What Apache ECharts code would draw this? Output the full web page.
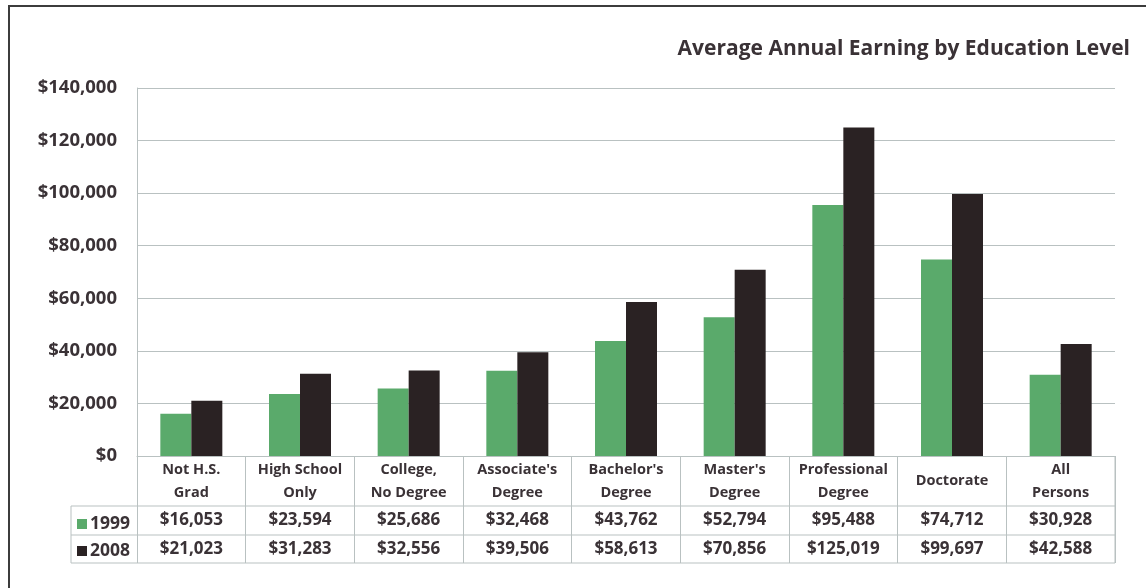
<!DOCTYPE html>
<html>
<head>
<meta charset="utf-8">
<script src="https://cdn.jsdelivr.net/npm/echarts@6/dist/echarts.min.js"></script>
<style>
  html, body { margin: 0; padding: 0; background: #fff; }
  #main { width: 1146px; height: 588px; }
</style>
</head>
<body>
<div id="main"></div>
<script>
// data
var categories = ['Not H.S.\nGrad', 'High School\nOnly', 'College,\nNo Degree', "Associate's\nDegree",
    "Bachelor's\nDegree", "Master's\nDegree", 'Professional\nDegree', 'Doctorate', 'All\nPersons'];
var years = ['1999', '2008'];
var earn1999 = [16053, 23594, 25686, 32468, 43762, 52794, 95488, 74712, 30928];
var earn2008 = [21023, 31283, 32556, 39506, 58613, 70856, 125019, 99697, 42588];
var yTicks = [0, 20000, 40000, 60000, 80000, 100000, 120000, 140000];

var green = '#5aaa6b';
var dark = '#2a2223';
var textCol = '#3a3236';
var lineCol = '#b9c1c1';
var font = '"Open Sans", sans-serif';

function money(v) {
    return '$' + String(v).replace(/\B(?=(\d{3})+(?!\d))/g, ',');
}

// 布局
var gLeft = 137, gRight = 1115, gTop = 88, gBottom = 456;
var rowY = [506, 535, 563];
var tableLeft = 71;

var chart = echarts.init(document.getElementById('main'));

var option = {
    animation: false,
    backgroundColor: '#fff',
    title: {
        text: 'Average Annual Earning by Education Level',
        right: 11,
        top: 34,
        textStyle: { fontFamily: font, fontWeight: 'bold', fontSize: 21, color: textCol }
    },
    legend: {
        data: years,
        orient: 'vertical',
        left: 72,
        top: 510,
        itemWidth: 10,
        itemHeight: 10,
        itemGap: 9,
        icon: 'rect',
        selectedMode: false,
        textStyle: { fontFamily: font, fontWeight: 'bold', fontSize: 17.5, color: textCol, padding: [0, 0, 0, -2] }
    },
    grid: {
        left: gLeft,
        right: 1146 - gRight,
        top: gTop,
        bottom: 588 - gBottom
    },
    xAxis: {
        type: 'category',
        data: categories,
        axisLine: { lineStyle: { color: lineCol, width: 1 } },
        axisTick: { show: true, length: 107, interval: 0, lineStyle: { color: lineCol } },
        axisLabel: {
            interval: 0,
            margin: 25,
            verticalAlign: 'middle',
            lineHeight: 23,
            fontFamily: font,
            fontWeight: 'bold',
            fontSize: 14.5,
            color: textCol
        }
    },
    yAxis: {
        type: 'value',
        min: 0,
        max: 140000,
        interval: 20000,
        axisLine: { show: true, lineStyle: { color: lineCol } },
        axisTick: { show: false },
        splitLine: { lineStyle: { color: lineCol } },
        axisLabel: {
            margin: 20,
            fontFamily: font,
            fontWeight: 'bold',
            fontSize: 18.5,
            color: textCol,
            formatter: function (v) { return money(v); }
        }
    },
    series: [
        { name: years[0], type: 'bar', data: earn1999, barWidth: 31, barGap: '0%', itemStyle: { color: green } },
        { name: years[1], type: 'bar', data: earn2008, barWidth: 31, itemStyle: { color: dark } }
    ]
};
chart.setOption(option);

// 数据表（画线和数值）
var graphics = [];
// outer frame
graphics.push({
    type: 'rect', shape: { x: 9, y: 6, width: 1150, height: 600 },
    style: { fill: null, stroke: '#3c3c3c', lineWidth: 2 }, silent: true
});
rowY.forEach(function (y) {
    graphics.push({
        type: 'line', shape: { x1: tableLeft, y1: y, x2: gRight, y2: y },
        style: { stroke: lineCol, lineWidth: 1 }, silent: true
    });
});
graphics.push({
    type: 'line', shape: { x1: tableLeft, y1: rowY[0], x2: tableLeft, y2: rowY[2] },
    style: { stroke: lineCol, lineWidth: 1 }, silent: true
});
graphics.push({
    type: 'line', shape: { x1: gRight, y1: gBottom, x2: gRight, y2: rowY[2] },
    style: { stroke: lineCol, lineWidth: 1 }, silent: true
});
[earn1999, earn2008].forEach(function (arr, r) {
    var cy = (rowY[r] + rowY[r + 1]) / 2;
    arr.forEach(function (v, i) {
        var cx = chart.convertToPixel({ xAxisIndex: 0 }, i);
        graphics.push({
            type: 'text', x: cx, y: cy, silent: true,
            style: {
                text: money(v), align: 'center', verticalAlign: 'middle',
                fontFamily: font, fontWeight: 'bold', fontSize: 17, fill: textCol
            }
        });
    });
});
chart.setOption({ graphic: graphics });
</script>
</body>
</html>
